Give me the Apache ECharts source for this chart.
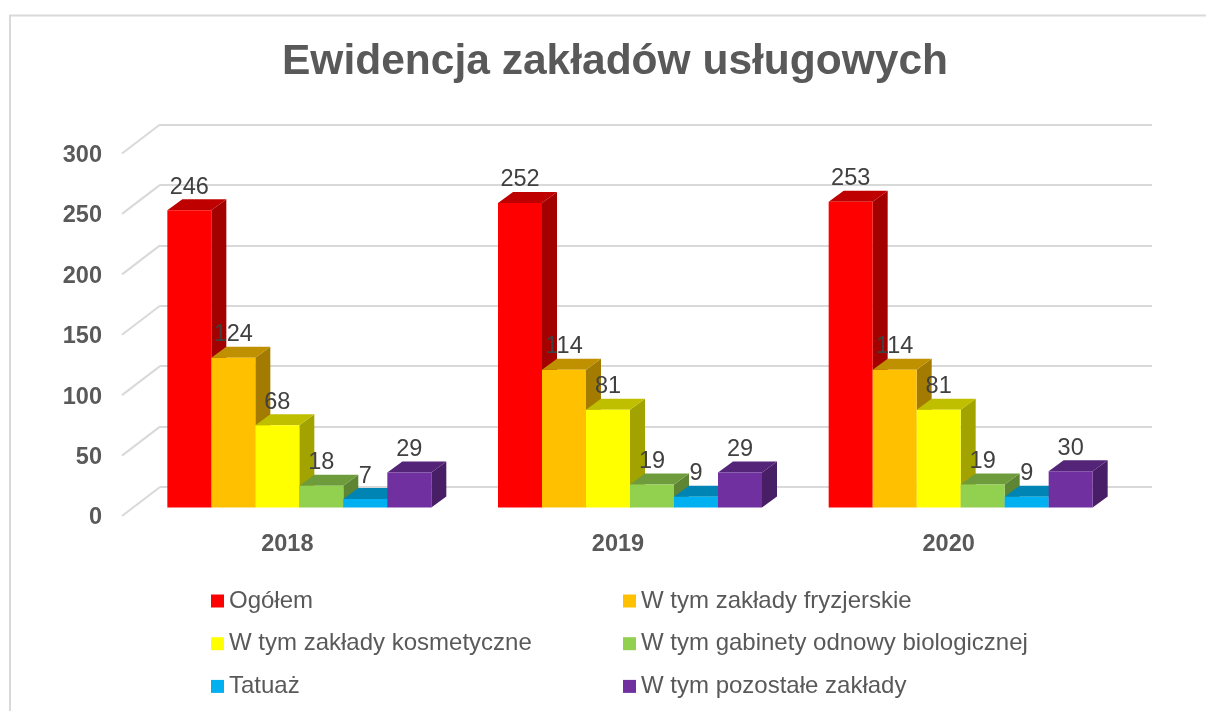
<!DOCTYPE html>
<html>
<head>
<meta charset="utf-8">
<title>Ewidencja zakładów usługowych</title>
<style>
  html, body { margin: 0; padding: 0; background: #fff; }
  #main { width: 1206px; height: 711px; }
</style>
<script src="https://cdn.jsdelivr.net/npm/echarts@6/dist/echarts.min.js"></script>
</head>
<body>
<div id="main"></div>
<script>
// dane z wykresu
const years = ['2018', '2019', '2020'];
const seriesNames = ['Ogółem', 'W tym zakłady fryzjerskie', 'W tym zakłady kosmetyczne', 'W tym gabinety odnowy biologicznej', 'Tatuaż', 'W tym pozostałe zakłady'];
const ogolem = [246, 252, 253];
const fryzjerskie = [124, 114, 114];
const kosmetyczne = [68, 81, 81];
const gabinety = [18, 19, 19];
const tatuaz = [7, 9, 9];
const pozostale = [29, 29, 30];
const seriesValues = [ogolem, fryzjerskie, kosmetyczne, gabinety, tatuaz, pozostale];
const axisTicks = [0, 50, 100, 150, 200, 250, 300];

const frontColors = ['#ff0000', '#ffc000', '#ffff00', '#92d050', '#00b0f0', '#7030a0'];
const topColors = ['#bf0000', '#bf9000', '#bfbf00', '#6e9c3c', '#0084b4', '#542478'];
const sideColors = ['#a30000', '#a37b00', '#a3a300', '#5d8533', '#007099', '#481f66'];

const fontFamily = '"Liberation Sans", Arial, sans-serif';
const chart = echarts.init(document.getElementById('main'));

// przesuniecia pseudo 3D wzgledem plaszczyzny osi
const barShift = [12, -8.5];
const barDepth = [15, -11];
const barShare = 44 / 330.67;

function barItem(i) {
  return function (params, api) {
    const w = api.size([1, 0])[0] * barShare;
    const base = api.coord([params.dataIndex, 0]);
    const top = api.coord([params.dataIndex, api.value(1)]);
    const x0 = base[0] + barShift[0] + w * (i - 3);
    const x1 = x0 + w;
    const y0 = base[1] + barShift[1];
    const y1 = top[1] + barShift[1];
    const dx = barDepth[0];
    const dy = barDepth[1];
    return {
      type: 'group',
      children: [
        { type: 'polygon', shape: { points: [[x1, y0], [x1 + dx, y0 + dy], [x1 + dx, y1 + dy], [x1, y1]] }, style: { fill: sideColors[i] } },
        { type: 'polygon', shape: { points: [[x0, y1], [x1, y1], [x1 + dx, y1 + dy], [x0 + dx, y1 + dy]] }, style: { fill: topColors[i] } },
        { type: 'rect', shape: { x: x0, y: y1, width: w, height: y0 - y1 }, style: { fill: frontColors[i] } }
      ]
    };
  };
}

function labelItem(i) {
  return function (params, api) {
    const w = api.size([1, 0])[0] * barShare;
    const top = api.coord([params.dataIndex, api.value(1)]);
    return {
      type: 'text',
      x: top[0] + barShift[0] + w * (i - 2.5),
      y: top[1] + barShift[1] - 23,
      style: {
        text: String(api.value(1)),
        textAlign: 'center',
        textVerticalAlign: 'middle',
        fontFamily: fontFamily,
        fontSize: 23.5,
        fill: '#404040'
      }
    };
  };
}

// ukosne odcinki od osi do tylnej sciany
function diagonalItem(params, api) {
  const p = api.coord([0, api.value(1)]);
  const x = params.coordSys.x;
  return {
    type: 'line',
    shape: { x1: x, y1: p[1], x2: x + 38, y2: p[1] - 29 },
    style: { stroke: '#d9d9d9', lineWidth: 2 }
  };
}

const series = [{
  type: 'custom',
  z: 1,
  silent: true,
  renderItem: diagonalItem,
  clip: false,
  data: axisTicks.map(v => [0, v])
}];
seriesValues.forEach((vals, i) => {
  series.push({
    name: seriesNames[i],
    type: 'custom',
    z: 2,
    clip: false,
    itemStyle: { color: frontColors[i] },
    renderItem: barItem(i),
    data: vals.map((v, k) => [k, v])
  });
});
seriesValues.forEach((vals, i) => {
  series.push({
    type: 'custom',
    z: 5,
    clip: false,
    silent: true,
    renderItem: labelItem(i),
    data: vals.map((v, k) => [k, v])
  });
});

const legendBase = {
  orient: 'vertical',
  icon: 'rect',
  itemWidth: 13,
  itemHeight: 13,
  itemGap: 18.7,
  top: 584,
  textStyle: { fontFamily: fontFamily, fontSize: 24, color: '#595959', lineHeight: 24 }
};

chart.setOption({
  animation: false,
  backgroundColor: '#fff',
  title: {
    text: 'Ewidencja zakładów usługowych',
    left: 610,
    top: 36,
    textAlign: 'center',
    textStyle: { fontFamily: fontFamily, fontSize: 42.5, fontWeight: 'bold', color: '#595959' }
  },
  legend: [
    Object.assign({}, legendBase, { left: 206, data: [seriesNames[0], seriesNames[2], seriesNames[4]] }),
    Object.assign({}, legendBase, { left: 618, data: [seriesNames[1], seriesNames[3], seriesNames[5]] })
  ],
  graphic: [{
    type: 'polyline',
    shape: { points: [[10, 711], [10, 15.5], [1206, 15.5]] },
    style: { stroke: '#d9d9d9', lineWidth: 2, fill: null }
  }],
  grid: [
    { left: 122, width: 992, top: 153.5, height: 362.5 },
    { left: 160, width: 992, top: 124.5, height: 362.5 },
    // tylko na opisy osi Y, nieco nizej niz plaszczyzna osi
    { left: 122, width: 992, top: 155.5, height: 362.5 }
  ],
  xAxis: [{
    type: 'category',
    data: years,
    gridIndex: 0,
    axisLine: { show: false },
    axisTick: { show: false },
    axisLabel: { margin: 17, fontFamily: fontFamily, fontSize: 23.5, fontWeight: 'bold', color: '#595959' }
  }, {
    type: 'category',
    data: years,
    gridIndex: 1,
    show: false
  }, {
    type: 'category',
    data: years,
    gridIndex: 2,
    show: false
  }],
  yAxis: [{
    type: 'value',
    gridIndex: 0,
    min: 0,
    max: 300,
    interval: 50,
    axisLine: { show: false },
    axisTick: { show: false },
    axisLabel: { show: false },
    splitLine: { show: false }
  }, {
    type: 'value',
    gridIndex: 1,
    min: 0,
    max: 300,
    interval: 50,
    axisLine: { show: false },
    axisTick: { show: false },
    axisLabel: { show: false },
    splitLine: { show: true, lineStyle: { color: '#d9d9d9', width: 2 } }
  }, {
    type: 'value',
    gridIndex: 2,
    min: 0,
    max: 300,
    interval: 50,
    axisLine: { show: false },
    axisTick: { show: false },
    splitLine: { show: false },
    axisLabel: { margin: 20, fontFamily: fontFamily, fontSize: 23.5, fontWeight: 'bold', color: '#595959' }
  }],
  series: series
});
</script>
</body>
</html>
